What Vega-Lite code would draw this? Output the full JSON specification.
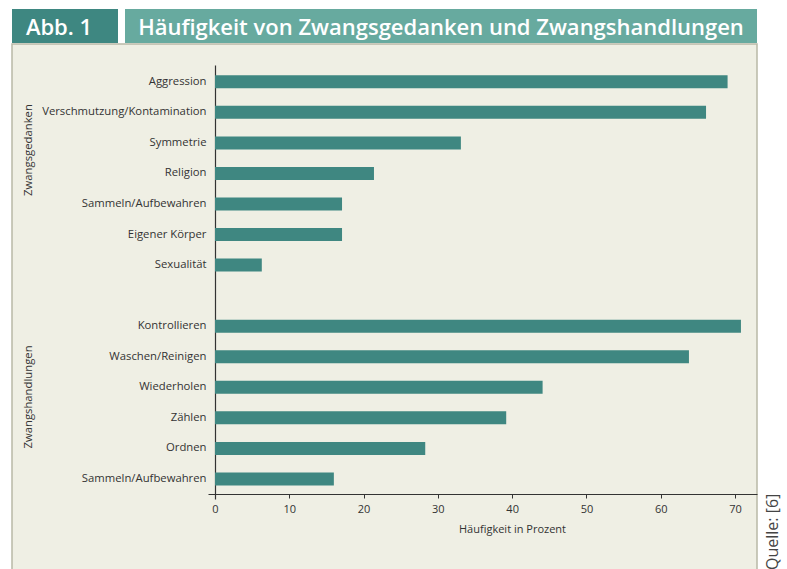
{
  "$schema": "https://vega.github.io/schema/vega-lite/v6.json",
  "background": "white",
  "padding": {"left": 11, "top": 9, "right": 0, "bottom": 0},
  "config": {"view": {"stroke": null}, "font": "Open Sans"},
  "spacing": 0,
  "vconcat": [
    {
      "spacing": 7,
      "hconcat": [
        {
          "width": 106, "height": 34,
          "view": {"fill": "#3e8781", "stroke": null},
          "data": {"values": [{"label": "Abb. 1"}]},
          "mark": {"type": "text", "color": "white", "fontSize": 22, "fontWeight": 600, "align": "center", "baseline": "middle", "dx": -6, "dy": 2, "font": "Open Sans"},
          "encoding": {"text": {"field": "label"}}
        },
        {
          "width": 632, "height": 34,
          "view": {"fill": "#67aa9f", "stroke": null},
          "data": {"values": [{"label": "Häufigkeit von Zwangsgedanken und Zwangshandlungen"}]},
          "mark": {"type": "text", "color": "white", "fontSize": 22, "fontWeight": 600, "align": "center", "baseline": "middle", "dy": 2, "font": "Open Sans"},
          "encoding": {"text": {"field": "label"}}
        }
      ]
    },
    {
      "width": 745, "height": 526,
      "view": {"fill": "#efefe4", "stroke": "#b9b9a6", "strokeWidth": 1.5},
      "title": {"text": "Quelle: [6]", "orient": "right", "anchor": "end", "angle": 270, "align": "left", "baseline": "top", "offset": -8, "fontSize": 16, "fontWeight": "normal", "color": "#444444", "font": "Open Sans"},
      "resolve": {"scale": {"y": "independent"}},
      "layer": [
        {
          "data": {"values": [
            {"key": "Zwangsgedanken|Aggression", "group": "Zwangsgedanken", "item": "Aggression", "value": 69.0},
            {"key": "Zwangsgedanken|Verschmutzung/Kontamination", "group": "Zwangsgedanken", "item": "Verschmutzung/Kontamination", "value": 66.1},
            {"key": "Zwangsgedanken|Symmetrie", "group": "Zwangsgedanken", "item": "Symmetrie", "value": 33.1},
            {"key": "Zwangsgedanken|Religion", "group": "Zwangsgedanken", "item": "Religion", "value": 21.4},
            {"key": "Zwangsgedanken|Sammeln/Aufbewahren", "group": "Zwangsgedanken", "item": "Sammeln/Aufbewahren", "value": 17.1},
            {"key": "Zwangsgedanken|Eigener Körper", "group": "Zwangsgedanken", "item": "Eigener Körper", "value": 17.1},
            {"key": "Zwangsgedanken|Sexualität", "group": "Zwangsgedanken", "item": "Sexualität", "value": 6.3},
            {"key": "Zwangshandlungen|Kontrollieren", "group": "Zwangshandlungen", "item": "Kontrollieren", "value": 70.8},
            {"key": "Zwangshandlungen|Waschen/Reinigen", "group": "Zwangshandlungen", "item": "Waschen/Reinigen", "value": 63.8},
            {"key": "Zwangshandlungen|Wiederholen", "group": "Zwangshandlungen", "item": "Wiederholen", "value": 44.1},
            {"key": "Zwangshandlungen|Zählen", "group": "Zwangshandlungen", "item": "Zählen", "value": 39.2},
            {"key": "Zwangshandlungen|Ordnen", "group": "Zwangshandlungen", "item": "Ordnen", "value": 28.3},
            {"key": "Zwangshandlungen|Sammeln/Aufbewahren", "group": "Zwangshandlungen", "item": "Sammeln/Aufbewahren", "value": 16.0}
          ]},
          "mark": {"type": "bar", "color": "#3f8781"},
          "encoding": {
            "y": {
              "field": "key", "type": "nominal", "sort": null,
              "scale": {
                "domain": [
                  "Zwangsgedanken|Aggression", "Zwangsgedanken|Verschmutzung/Kontamination", "Zwangsgedanken|Symmetrie", "Zwangsgedanken|Religion", "Zwangsgedanken|Sammeln/Aufbewahren", "Zwangsgedanken|Eigener Körper", "Zwangsgedanken|Sexualität",
                  "gap",
                  "Zwangshandlungen|Kontrollieren", "Zwangshandlungen|Waschen/Reinigen", "Zwangshandlungen|Wiederholen", "Zwangshandlungen|Zählen", "Zwangshandlungen|Ordnen", "Zwangshandlungen|Sammeln/Aufbewahren"
                ],
                "range": [21, 455], "paddingInner": 0.5745, "paddingOuter": 0.39, "align": 0.432
              },
              "axis": {
                "orient": "left", "offset": -203, "title": null, "ticks": false,
                "domainColor": "#333333", "domainWidth": 1.2,
                "labelPadding": 9, "labelFontSize": 11.3, "labelColor": "#333333", "labelFont": "Open Sans",
                "labelExpr": "indexof(datum.value, '|') < 0 ? '' : substring(datum.value, indexof(datum.value, '|') + 1)"
              }
            },
            "x": {
              "field": "value", "type": "quantitative",
              "scale": {"domain": [-0.942, 72.96], "range": [196, 745], "nice": false, "zero": false},
              "axis": {
                "orient": "bottom", "offset": -76, "values": [0, 10, 20, 30, 40, 50, 60, 70], "grid": false,
                "tickSize": 4, "tickColor": "#333333", "domainColor": "#333333", "domainWidth": 1.2,
                "labelFontSize": 11, "labelColor": "#333333", "labelPadding": 5, "labelFont": "Open Sans",
                "title": "Häufigkeit in Prozent", "titleFontSize": 11, "titleFontWeight": "normal", "titleColor": "#333333", "titleFont": "Open Sans", "titlePadding": 9, "titleX": 500
              }
            },
            "x2": {"datum": 0}
          }
        },
        {
          "data": {"values": [{"group": "Zwangsgedanken"}, {"group": "Zwangshandlungen"}]},
          "mark": {"type": "text", "angle": 270, "fontSize": 11.3, "color": "#333333", "align": "center", "baseline": "middle", "font": "Open Sans"},
          "encoding": {
            "y": {"field": "group", "type": "nominal", "scale": {"type": "point", "range": [106, 353], "padding": 0}, "axis": null},
            "x": {"datum": -25},
            "text": {"field": "group"}
          }
        }
      ]
    }
  ]
}
